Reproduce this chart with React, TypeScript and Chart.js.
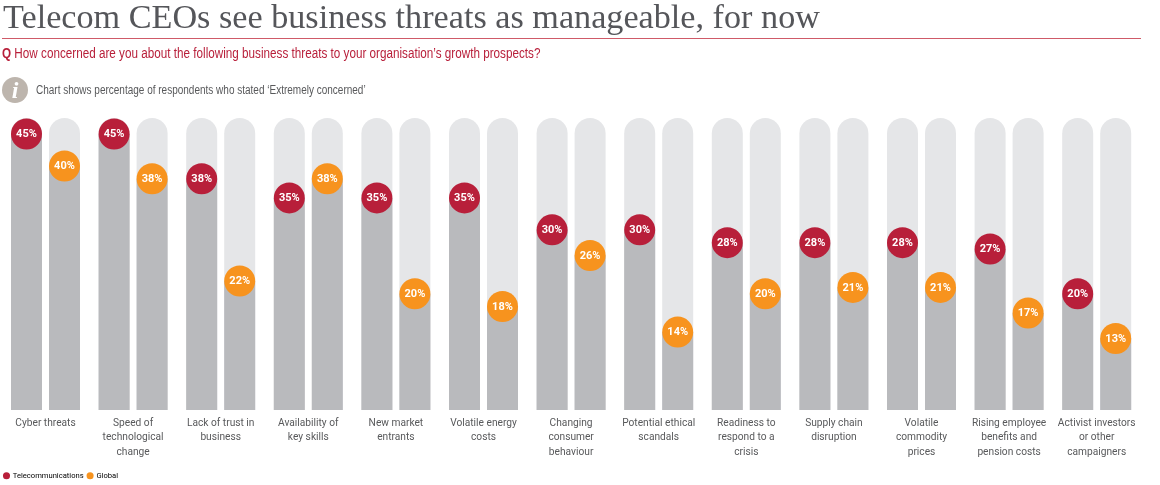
import React, { useEffect, useRef } from "react";
import { Chart, registerables } from "chart.js";

Chart.register(...registerables);

const SANS = '"Liberation Sans", sans-serif';
const CANVAS_FONT = 'Roboto, "Liberation Sans", sans-serif';

const titleText = "Telecom CEOs see business threats as manageable, for now";
const questionText = "How concerned are you about the following business threats to your organisation’s growth prospects?";
const noteText = "Chart shows percentage of respondents who stated ‘Extremely concerned’";

const categories: string[][] = [
  ["Cyber threats"],
  ["Speed of", "technological", "change"],
  ["Lack of trust in", "business"],
  ["Availability of", "key skills"],
  ["New market", "entrants"],
  ["Volatile energy", "costs"],
  ["Changing", "consumer", "behaviour"],
  ["Potential ethical", "scandals"],
  ["Readiness to", "respond to a", "crisis"],
  ["Supply chain", "disruption"],
  ["Volatile", "commodity", "prices"],
  ["Rising employee", "benefits and", "pension costs"],
  ["Activist investors", "or other", "campaigners"],
];
const telecom = [45, 45, 38, 35, 35, 35, 30, 30, 28, 28, 28, 27, 20];
const globalVals = [40, 38, 22, 38, 20, 18, 26, 14, 20, 21, 21, 17, 13];
const track = [47.5, 47.5, 47.5, 47.5, 47.5, 47.5, 47.5, 47.5, 47.5, 47.5, 47.5, 47.5, 47.5];

const RED = "#b81f3a";
const ORANGE = "#f7931e";
const GREY = "#b9babd";
const LIGHT = "#e5e6e8";

const badgePlugin = {
  id: "badges",
  afterDatasetsDraw(chart: any) {
    const { ctx } = chart;
    const pairs: [number, string][] = [[0, RED], [1, ORANGE]];
    pairs.forEach(([di, color]) => {
      const meta = chart.getDatasetMeta(di);
      const values = chart.data.datasets[di].data as number[];
      meta.data.forEach((bar: any, i: number) => {
        ctx.save();
        ctx.beginPath();
        ctx.arc(bar.x, bar.y, 15.5, 0, Math.PI * 2);
        ctx.fillStyle = color;
        ctx.fill();
        ctx.fillStyle = "#ffffff";
        ctx.font = `bold 11px ${CANVAS_FONT}`;
        ctx.textAlign = "center";
        ctx.textBaseline = "middle";
        ctx.fillText(`${values[i]}%`, bar.x, bar.y + 0.5);
        ctx.restore();
      });
    });
  },
};

export default function App() {
  const ref = useRef<HTMLCanvasElement>(null);
  useEffect(() => {
    const chart = new Chart(ref.current!, {
      type: "bar",
      data: {
        labels: categories,
        datasets: [
          { label: "Telecommunications", data: telecom, stack: "a", backgroundColor: GREY, order: 1 },
          { label: "Global", data: globalVals, stack: "b", backgroundColor: GREY, order: 1 },
          { label: "track a", data: track, stack: "a", backgroundColor: LIGHT, order: 2, borderRadius: { topLeft: 15.5, topRight: 15.5, bottomLeft: 0, bottomRight: 0 }, borderSkipped: false },
          { label: "track b", data: track, stack: "b", backgroundColor: LIGHT, order: 2, borderRadius: { topLeft: 15.5, topRight: 15.5, bottomLeft: 0, bottomRight: 0 }, borderSkipped: false },
        ] as any,
      },
      options: {
        animation: false,
        responsive: false,
        layout: { padding: { top: 118, left: 0, right: 19.5, bottom: -4.5 } },
        datasets: { bar: { categoryPercentage: 0.8676, barPercentage: 0.816 } },
        scales: {
          x: {
            grid: { display: false },
            border: { display: false },
            afterFit(scale: any) { scale.height = 57.8; },
            ticks: {
              autoSkip: false,
              maxRotation: 0,
              minRotation: 0,
              padding: -2,
              color: "#58595b",
              font: { family: CANVAS_FONT, size: 10.2, lineHeight: 1.42 },
            },
          },
          y: {
            display: true,
            stacked: false,
            min: 1.8,
            max: 47.5,
            grid: { display: false },
            border: { display: false },
            ticks: { display: false },
            afterFit(scale: any) { scale.width = 1.7; },
          },
        },
        plugins: {
          tooltip: { enabled: false },
          legend: {
            display: true,
            position: "bottom",
            align: "start",
            labels: {
              usePointStyle: true,
              pointStyle: "circle",
              boxWidth: 5,
              boxHeight: 5,
              padding: 4,
              color: "#58595b",
              font: { family: CANVAS_FONT, size: 7.6 },
              generateLabels: () => [
                { text: "Telecommunications", fillStyle: RED, strokeStyle: RED, lineWidth: 0, pointStyle: "circle", hidden: false, datasetIndex: 0 },
                { text: "Global", fillStyle: ORANGE, strokeStyle: ORANGE, lineWidth: 0, pointStyle: "circle", hidden: false, datasetIndex: 1 },
              ],
            },
          },
        },
      },
      plugins: [badgePlugin],
    } as any);
    return () => chart.destroy();
  }, []);

  return (
    <div style={{ position: "absolute", left: 0, top: 0, width: 1160, height: 485, background: "#fff", overflow: "hidden" }}>
      <canvas ref={ref} width={1160} height={485} style={{ position: "absolute", left: 0, top: 0 }} />
      <div style={{ position: "absolute", left: 3, top: -2, fontFamily: '"Liberation Serif", serif', fontSize: 34.2, color: "#55565a", whiteSpace: "nowrap" }}>{titleText}</div>
      <div style={{ position: "absolute", left: 2, top: 38, width: 1139, height: 1, background: "#cf5a68" }} />
      <div style={{ position: "absolute", left: 2, top: 44, fontFamily: SANS, fontSize: 15.5, color: RED, whiteSpace: "nowrap", transform: "scaleX(0.755)", transformOrigin: "left top" }}>
        <b>Q</b> {questionText}
      </div>
      <div style={{ position: "absolute", left: 2, top: 77, width: 26, height: 26, borderRadius: 13, background: "#bdb5ad", color: "#fff", textAlign: "center", fontFamily: '"Liberation Serif", serif', fontStyle: "italic", fontWeight: "bold", fontSize: 24, lineHeight: "26px" }}>i</div>
      <div style={{ position: "absolute", left: 36, top: 83, fontFamily: SANS, fontSize: 12.5, color: "#58595b", whiteSpace: "nowrap", transform: "scaleX(0.8)", transformOrigin: "left top" }}>{noteText}</div>
    </div>
  );
}
